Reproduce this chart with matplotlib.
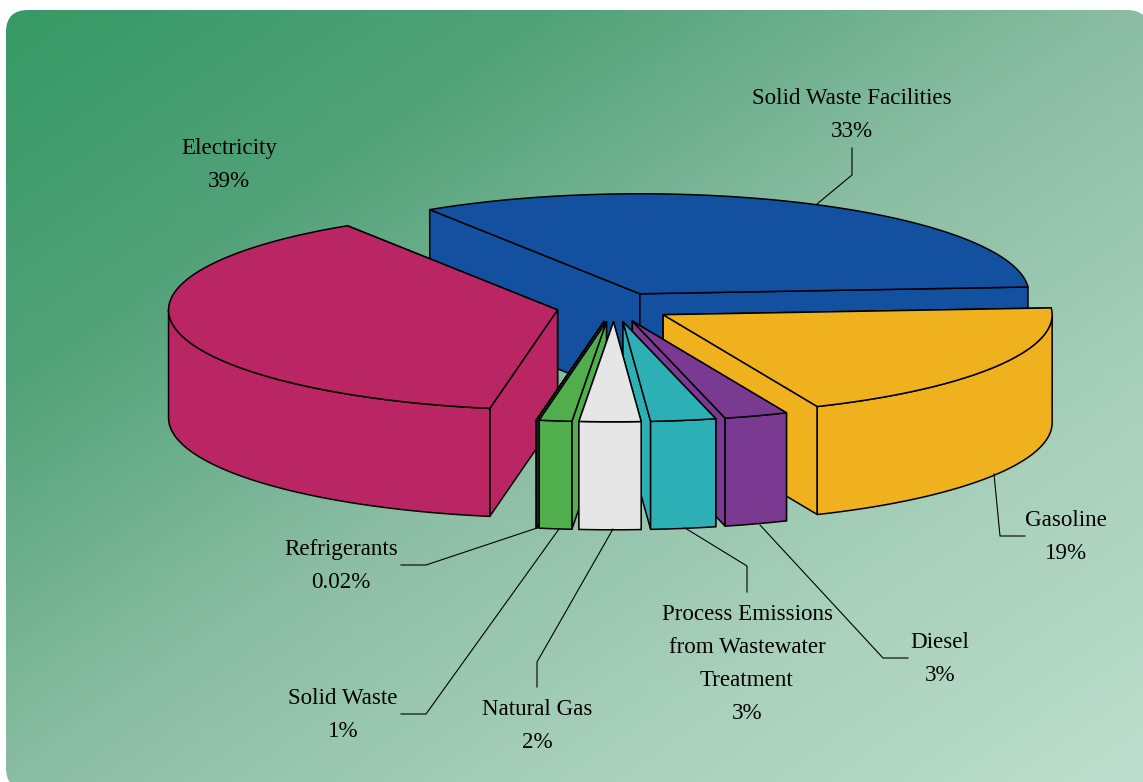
import matplotlib
matplotlib.use("Agg")
import matplotlib.pyplot as plt
from matplotlib.patches import FancyBboxPatch, Polygon
import numpy as np

W, H = 1143, 782

# slices, clockwise from START_ANGLE
names = ["Solid Waste Facilities", "Gasoline", "Diesel",
         "Process Emissions\nfrom Wastewater\nTreatment",
         "Natural Gas", "Solid Waste", "Refrigerants", "Electricity"]
values = [33.0, 19.6, 2.65, 2.7, 2.55, 1.35, 0.02, 38.13]
pct_labels = ["33%", "19%", "3%", "3%", "2%", "1%", "0.02%", "39%"]
colors = ["#1450A0", "#F0B11E", "#7A3A92", "#2DB0B5",
          "#E6E6E6", "#50AE4C", "#8A6FA8", "#BA2663"]
draw_order = [0, 7, 1, 2, 3, 6, 5, 4]

# label centres and leader lines, pixels
label_xy = [(852, 115), (1066, 537), (940, 659), (747, 664),
            (537, 726), (343, 715), (341, 566), (229, 165)]
leaders = [[(817, 204), (852, 175), (852, 148)],
           [(994, 474), (1000, 536), (1025, 536)],
           [(760, 525), (883, 658), (908, 658)],
           [(685, 528), (747, 566), (747, 592)],
           [(613, 529), (537, 662), (537, 687)],
           [(559, 529), (426, 714), (401, 714)],
           [(537, 528), (426, 565), (401, 565)],
           None]

# background colour stops along the diagonal
bg_pos = [0, 0.25, 0.5, 0.75, 1]
bg_rgb = [(0x35, 0x99, 0x65), (0x52, 0xA2, 0x79), (0x8A, 0xBD, 0xA3),
          (0xA8, 0xD0, 0xBB), (0xBC, 0xDE, 0xCE)]

CX, CY = 614, 307
RX, RY = 389, 100
DEPTH = 108
EXPLODE = 0.148
START_ANGLE = 327.3


def rim(cx, cy, t):
    t = np.radians(t)
    return np.column_stack([cx + RX * np.sin(t), cy - RY * np.cos(t)])


def draw_slice(ax, t0, t1, color):
    mid = np.radians((t0 + t1) / 2)
    ax0 = CX + EXPLODE * RX * np.sin(mid)
    ay0 = CY - EXPLODE * RY * np.cos(mid)
    style = dict(facecolor=color, edgecolor="black", linewidth=1.1, joinstyle="round")
    down = np.array([0, DEPTH])
    apex = np.array([ax0, ay0])

    # the two cut faces, the one further back first
    for t in sorted((t0, t1), key=lambda a: rim(ax0, ay0, [a])[0][1]):
        p = rim(ax0, ay0, [t])[0]
        ax.add_patch(Polygon([apex, p, p + down, apex + down], closed=True, **style))

    # outer wall, front half only
    for a, b in ((t0, t1), (t0 - 360, t1 - 360)):
        lo, hi = max(a, 90), min(b, 270)
        if hi > lo:
            arc = rim(ax0, ay0, np.linspace(lo, hi, max(int(hi - lo), 2) + 1))
            ax.add_patch(Polygon(np.vstack([arc, arc[::-1] + down]), closed=True, **style))

    # top
    arc = rim(ax0, ay0, np.linspace(t0, t1, max(int(t1 - t0), 2) + 1))
    ax.add_patch(Polygon(np.vstack([[ax0, ay0], arc]), closed=True, **style))


fig = plt.figure(figsize=(W / 100, H / 100), dpi=100)
ax = fig.add_axes([0, 0, 1, 1])
ax.set_xlim(0, W)
ax.set_ylim(H, 0)
ax.axis("off")

# diagonal gradient panel
yy, xx = np.mgrid[0:H, 0:W]
g = np.clip((xx / W * 0.5 + yy / H * 0.5), 0, 1)
img = np.dstack([np.interp(g, bg_pos, [c[k] for c in bg_rgb]) for k in range(3)]) / 255
im = ax.imshow(img, extent=(0, W, H, 0), aspect="auto", zorder=0, interpolation="bilinear")
panel = FancyBboxPatch((6, 10), W, H - 2, boxstyle="round,pad=0,rounding_size=22",
                       transform=ax.transData, facecolor="none", edgecolor="none")
ax.add_patch(panel)
im.set_clip_path(panel)

fractions = np.array(values) / sum(values)
edges = START_ANGLE + np.concatenate([[0], np.cumsum(fractions)]) * 360

for i in draw_order:
    draw_slice(ax, edges[i], edges[i + 1], colors[i])

for line in leaders:
    if line:
        xs, ys = zip(*line)
        ax.plot(xs, ys, color="black", lw=0.8, zorder=5)

for (x, y), name, pct in zip(label_xy, names, pct_labels):
    ax.text(x, y, name + "\n" + pct, ha="center", va="center",
            family="Liberation Serif", fontsize=16.6, color="black", linespacing=1.74, zorder=6)

fig.savefig("out.png", dpi=100)
